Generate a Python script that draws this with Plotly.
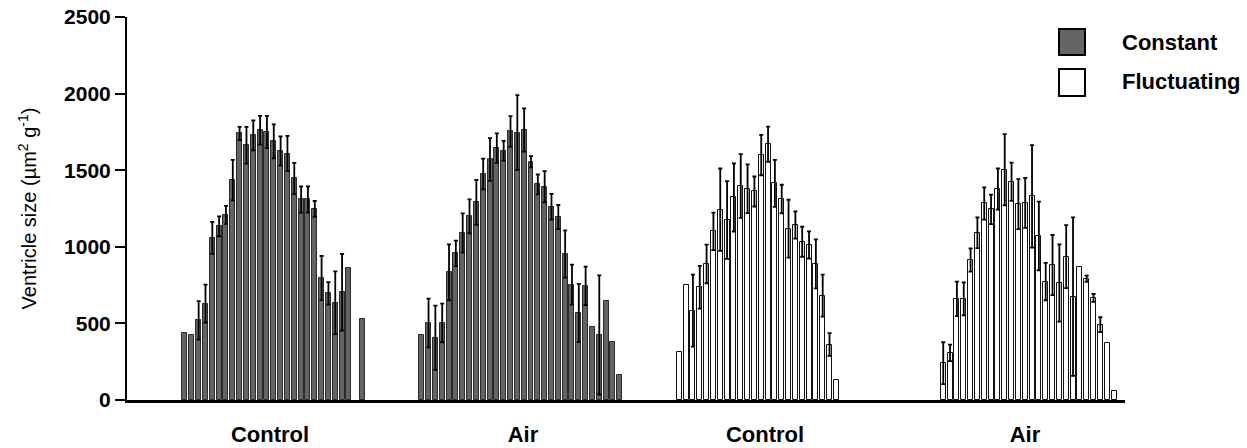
import plotly.graph_objects as go

# ---------------- data ----------------
group_labels = ["Control", "Air", "Control", "Air"]
treatment_names = ["Constant", "Fluctuating"]

control_constant_mean = [437, 424, 520, 629, 1058, 1134, 1208, 1435, 1740, 1663, 1727, 1761, 1750,
                         1688, 1626, 1609, 1446, 1309, 1309, 1247, 796, 696, 635, 703, 859, None, 531]
control_constant_sem = [None, None, 126, 124, 104, 65, 59, 132, 43, 120, 98, 94, 105,
                        111, 94, 115, 102, 86, 86, 52, 144, 74, 205, 250, None, None, None]

air_constant_mean = [425, 503, 406, 503, 833, 957, 1090, 1198, 1290, 1475, 1570, 1644, 1627, 1753,
                     1746, 1762, 1555, 1407, 1392, 1262, 1194, 953, 753, 568, 745, 479, 425, 649, 377, 164]
air_constant_sem = [None, 159, 210, 126, 183, 83, 128, 111, 146, 100, 140, 96, 65, 100,
                    244, 141, 37, 65, 102, 84, 79, 154, 130, 190, 125, None, 389, None, None, None]

control_fluct_mean = [316, 753, 583, 736, 888, 1101, 1242, 1175, 1322, 1397, 1379, 1361, 1599, 1670,
                      1414, 1312, 1118, 1142, 1033, 1012, 888, 681, 362, 132]
control_fluct_sem = [None, None, 235, 139, 126, 122, 269, 254, 222, 208, 159, 98, 132, 115,
                     154, 93, 189, 89, 98, 89, 160, 137, 74, None]

air_fluct_mean = [240, 308, 660, 660, 914, 1092, 1283, 1244, 1377, 1503, 1425, 1279, 1286, 1329,
                  1071, 773, 881, 764, 936, 675, 866, 792, 666, 492, 370, 57]
air_fluct_sem = [137, 54, 113, 108, 76, 100, 105, 96, 134, 233, 125, 163, 163, 335,
                 224, 122, 196, 252, 206, 517, None, 20, 26, 48, None, None]

y_tick_values = [0, 500, 1000, 1500, 2000, 2500]

# ---------------- layout constants ----------------
W, H = 1247, 448
PL, PR, PT, PB = 127, 1125, 17, 400        # plot area in screen px
FONT = "Liberation Sans, Arial, sans-serif"
group_offsets = [0.0, 34.66, 72.37, 111.02]  # slot position of first bar in each group
label_positions = [12.45, 49.49, 84.92, 122.99]
x_range = [-8.49, 137.63]
bar_width = 0.73

series = [
    (control_constant_mean, control_constant_sem, 0),
    (air_constant_mean, air_constant_sem, 0),
    (control_fluct_mean, control_fluct_sem, 1),
    (air_fluct_mean, air_fluct_sem, 1),
]
fills = ["#646464", "#ffffff"]
edges = ["#2a2a2a", "#111111"]

fig = go.Figure()
for gi, (means, sems, t) in enumerate(series):
    xs = [group_offsets[gi] + i for i in range(len(means))]
    fig.add_trace(go.Bar(
        x=xs, y=means, width=bar_width,
        name=treatment_names[t], showlegend=False,
        marker=dict(color=fills[t], line=dict(color=edges[t], width=1)),
    ))
    ex = [x for x, m, s in zip(xs, means, sems) if s is not None and m is not None]
    ey = [m for m, s in zip(means, sems) if s is not None and m is not None]
    es = [s for m, s in zip(means, sems) if s is not None and m is not None]
    fig.add_trace(go.Scatter(
        x=ex, y=ey, mode="markers", showlegend=False, hoverinfo="skip",
        marker=dict(size=1, color="rgba(0,0,0,0)"),
        error_y=dict(type="data", array=es, symmetric=True, color="#000000",
                     thickness=1.8, width=2),
    ))

def px_x(p):
    return (p - PL) / (PR - PL)

def px_y(p):
    return (PB - p) / (PB - PT)

# legend drawn manually (large boxes)
legend_rows = [(29, 55, 42.5), (69, 96, 82)]
for t, (y0, y1, yc) in enumerate(legend_rows):
    fig.add_shape(type="rect", xref="paper", yref="paper",
                  x0=px_x(1059), x1=px_x(1085), y0=px_y(y1), y1=px_y(y0),
                  fillcolor=fills[t], line=dict(color="#000000", width=2))
    fig.add_annotation(xref="paper", yref="paper", x=px_x(1120), y=px_y(yc),
                       text="<b>%s</b>" % treatment_names[t], showarrow=False,
                       xanchor="left", yanchor="middle",
                       font=dict(family=FONT, size=22, color="#000000"))

fig.update_layout(
    width=W, height=H, autosize=False,
    margin=dict(l=PL, r=W - PR, t=PT, b=H - PB, pad=0, autoexpand=False),
    plot_bgcolor="#ffffff", paper_bgcolor="#ffffff",
    barmode="overlay", bargap=0,
    font=dict(family=FONT, color="#000000"),
    xaxis=dict(range=x_range, tickvals=label_positions,
               ticktext=["<b>%s</b>" % g for g in group_labels],
               showgrid=False, zeroline=False, showline=True, linecolor="#000000",
               linewidth=3, ticks="outside", ticklen=13, tickcolor="rgba(0,0,0,0)",
               automargin=False, ticklabeloverflow="allow",
               tickfont=dict(family=FONT, size=22, color="#000000")),
    yaxis=dict(range=[0, 2500], tickvals=y_tick_values,
               ticktext=["<b>%d</b>" % v for v in y_tick_values],
               showgrid=False, zeroline=False, showline=True, linecolor="#000000",
               linewidth=2, ticks="outside", ticklen=10, tickwidth=2, tickcolor="#000000",
               automargin=False, ticklabeloverflow="allow",
               tickfont=dict(family=FONT, size=21, color="#000000"),
               title=dict(text="Ventricle size (µm<sup>2</sup> g<sup>-1</sup>)",
                          font=dict(family=FONT, size=20, color="#000000"), standoff=22)),
)

fig.write_html("out.html", config={"displayModeBar": False},
               post_script="document.body.style.margin='0';document.body.style.overflow='hidden';")
